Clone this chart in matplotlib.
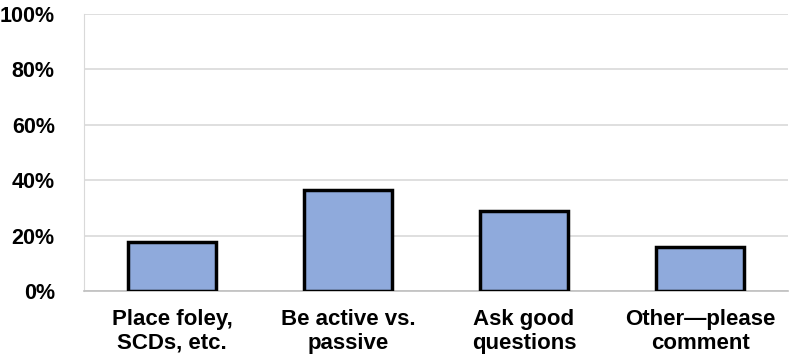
import matplotlib
matplotlib.use("Agg")
import matplotlib.pyplot as plt
from matplotlib.ticker import PercentFormatter

categories = ["Place foley,\nSCDs, etc.", "Be active vs.\npassive",
              "Ask good\nquestions", "Other\u2014please\ncomment"]
values = [17.6, 36.5, 29.0, 15.9]
yticks = [0, 20, 40, 60, 80, 100]

plt.rcParams['font.family'] = ['Liberation Sans', 'DejaVu Sans']

fig = plt.figure(figsize=(7.92, 3.58), dpi=100)
ax = fig.add_axes([0.106, 0.187, 0.889, 0.774])

x = range(len(categories))
ax.bar(x, values, width=0.5, color='#8faadc', edgecolor='black',
       linewidth=2.5, zorder=3)

ax.set_xlim(-0.5, len(categories) - 0.5)
ax.set_ylim(0, 100)
ax.set_yticks(yticks)
ax.yaxis.set_major_formatter(PercentFormatter(decimals=0))
ax.grid(axis='y', color='#d9d9d9', linewidth=1.2, zorder=0)

ax.set_xticks(list(x))
ax.set_xticklabels(categories, fontsize=16, fontweight='bold', linespacing=1.15)
for lab in ax.get_yticklabels():
    lab.set_fontsize(15.5)
    lab.set_fontweight('bold')
ax.tick_params(axis='both', length=0)
ax.tick_params(axis='y', pad=21)
ax.tick_params(axis='x', pad=13)

for s in ['top', 'right']:
    ax.spines[s].set_visible(False)
ax.spines['left'].set_color('#d9d9d9')
ax.spines['bottom'].set_color('#bfbfbf')
ax.spines['bottom'].set_linewidth(1.2)

fig.savefig("out.png", dpi=100)
